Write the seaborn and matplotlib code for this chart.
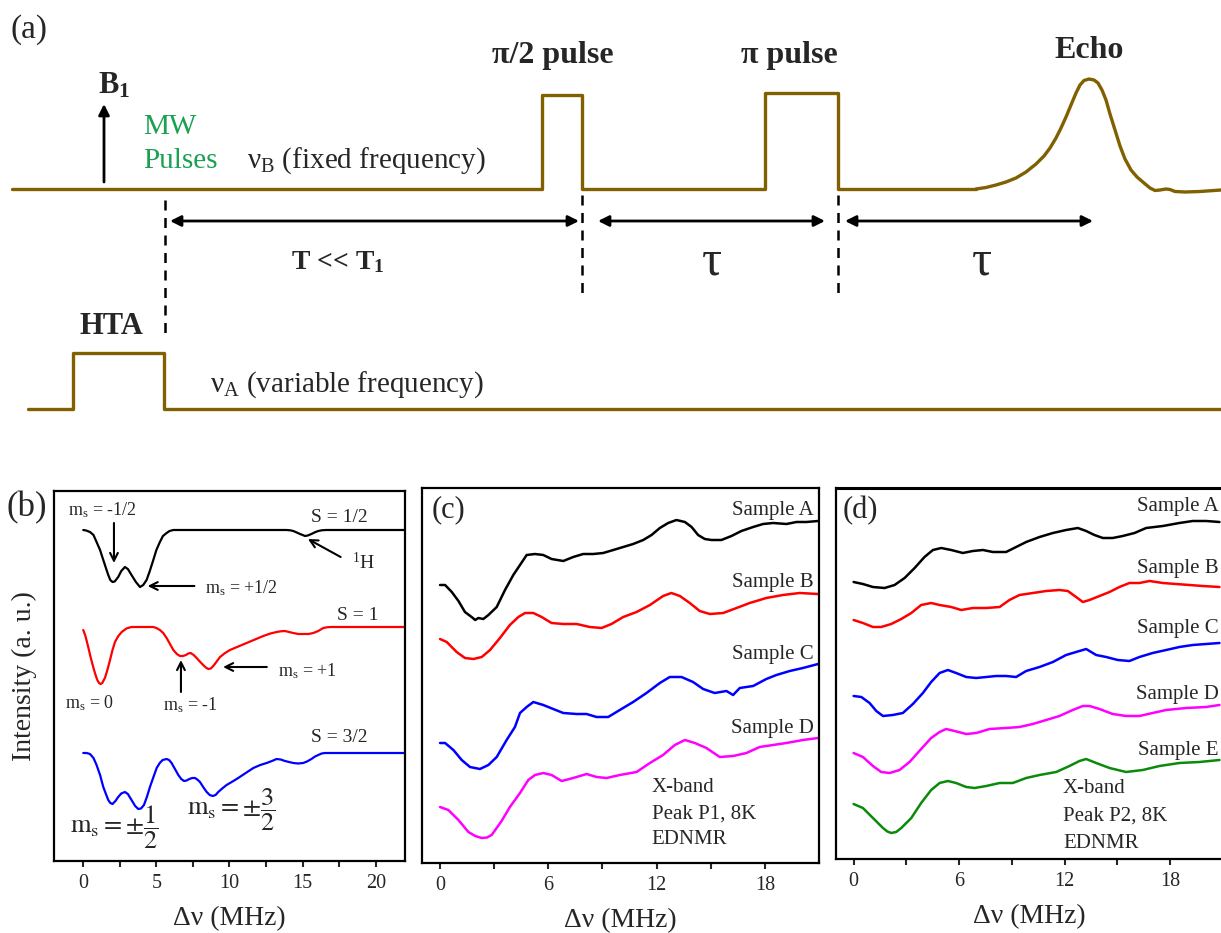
import matplotlib
matplotlib.use("Agg")
import matplotlib.pyplot as plt
import seaborn as sns

sns.set_style("ticks")
plt.rcParams['font.family'] = ['Liberation Serif', 'DejaVu Serif']
plt.rcParams['mathtext.fontset'] = 'custom'
plt.rcParams['mathtext.rm'] = 'Liberation Serif'
plt.rcParams['mathtext.it'] = 'Liberation Serif:italic'
plt.rcParams['mathtext.bf'] = 'Liberation Serif:bold'

# ---------------- data: panel (a) pulse scheme (time / amplitude, drawing units) -------------
nuB_t = [12, 542, 542, 582, 582, 765, 765, 838, 838, 976]
nuB_amp = [189, 189, 95, 95, 189, 189, 93, 93, 189, 189]
echo_t = [976, 986, 996, 1006, 1016, 1026, 1036, 1044, 1050, 1056, 1061, 1066, 1071, 1076,
          1080, 1084, 1089, 1094, 1098, 1102, 1106, 1110, 1115, 1120, 1125, 1131, 1137, 1144,
          1150, 1155, 1160, 1166, 1170, 1175, 1185, 1200, 1221]
echo_amp = [189, 187.5, 185, 182, 178, 172, 164, 156, 148, 138, 128, 117, 105, 93,
            85, 80.5, 79, 80, 83, 90, 100, 114, 130, 146, 159, 170, 177, 183,
            188, 190.5, 190, 189, 189.5, 191.5, 192, 191.5, 190]
nuA_t = [28, 73, 73, 164, 164, 1221]
nuA_amp = [409, 409, 353, 353, 409, 409]
marker_t = [165, 582, 838]

# ---------------- data: panel (b) simulated spectra ----------------
b_s12_x = [0, 0.2, 0.46, 0.7, 0.91, 1.15, 1.37, 1.55, 1.71, 1.85, 2.0, 2.15, 2.39, 2.6, 2.85,
           3.05, 3.3, 3.6, 3.88, 4.1, 4.33, 4.55, 4.79, 5.0, 5.24, 5.45, 5.7, 5.9, 6.16, 13.9,
           14.15, 14.36, 14.6, 14.82, 15.0, 15.16, 15.35, 15.6, 15.85, 16.07, 16.3, 16.6, 22]
b_s12_y = [33.1, 33.05, 32.9, 32.6, 31.9, 31.1, 30.1, 29.3, 28.6, 28.1, 27.9, 27.95, 28.4, 29.0,
           29.4, 29.2, 28.6, 27.9, 27.4, 27.6, 28.1, 29.0, 30.1, 31.1, 31.9, 32.5, 32.8, 33.0,
           33.1, 33.1, 33.07, 33.0, 32.85, 32.7, 32.6, 32.5, 32.55, 32.7, 32.88, 33.0, 33.07,
           33.1, 33.1]
b_s1_x = [0, 0.15, 0.34, 0.5, 0.68, 0.82, 0.96, 1.08, 1.19, 1.3, 1.48, 1.65, 1.83, 2.0, 2.17,
          2.4, 2.63, 2.95, 3.3, 4.79, 5.0, 5.24, 5.47, 5.7, 5.93, 6.16, 6.4, 6.61, 6.82, 7.02,
          7.18, 7.34, 7.55, 7.75, 7.97, 8.2, 8.38, 8.55, 8.72, 8.89, 9.1, 9.35, 9.7, 10.03,
          10.6, 11.17, 11.74, 12.31, 12.8, 13.22, 13.5, 13.79, 14.07, 14.36, 14.7, 15.04, 15.4,
          15.73, 16.07, 16.41, 16.7, 16.98, 22]
b_s1_y = [23.1, 22.5, 21.4, 20.4, 19.4, 18.7, 18.1, 17.8, 17.7, 17.8, 18.3, 19.1, 20.1, 21.1,
          21.9, 22.5, 22.9, 23.25, 23.4, 23.4, 23.3, 23.1, 22.8, 22.3, 21.7, 21.1, 20.7, 20.5,
          20.5, 20.6, 20.75, 20.8, 20.6, 20.3, 19.95, 19.6, 19.35, 19.2, 19.25, 19.5, 19.9,
          20.4, 20.8, 21.1, 21.45, 21.8, 22.15, 22.5, 22.75, 22.9, 22.97, 23.0, 22.9, 22.8,
          22.7, 22.7, 22.7, 22.8, 23.0, 23.3, 23.38, 23.4, 23.4]
b_s32_x = [0, 0.23, 0.46, 0.7, 0.91, 1.15, 1.37, 1.55, 1.71, 1.85, 2.0, 2.2, 2.39, 2.6, 2.85,
           3.05, 3.3, 3.55, 3.76, 3.95, 4.15, 4.35, 4.56, 4.8, 5.02, 5.23, 5.43, 5.7, 5.87, 6.04,
           6.27, 6.5, 6.7, 6.89, 7.07, 7.25, 7.45, 7.64, 7.8, 7.98, 8.2, 8.44, 8.65, 8.85, 9.05,
           9.23, 9.5, 9.8, 10.15, 10.49, 11.06, 11.63, 12.1, 12.54, 12.9, 13.22, 13.5, 13.79,
           14.07, 14.36, 14.7, 15.04, 15.3, 15.6, 15.85, 16.07, 16.3, 16.52, 22]
b_s32_y = [10.8, 10.8, 10.7, 10.3, 9.6, 8.6, 7.4, 6.7, 6.1, 5.8, 5.7, 6.0, 6.4, 6.75, 6.9,
           6.7, 6.1, 5.5, 5.2, 5.25, 5.6, 6.4, 7.4, 8.4, 9.3, 9.8, 10.1, 10.2, 10.1, 9.8,
           9.2, 8.6, 8.2, 8.0, 8.05, 8.2, 8.3, 8.3, 8.15, 7.9, 7.4, 6.9, 6.6, 6.5, 6.6,
           6.9, 7.25, 7.6, 7.9, 8.2, 8.75, 9.3, 9.6, 9.8, 10.0, 10.2, 10.15, 10.0,
           9.9, 9.8, 9.75, 9.8, 9.95, 10.2, 10.45, 10.6, 10.75, 10.8, 10.8]

# ---------------- data: panel (c) EDNMR, peak P1 ----------------
cA_x = [0, 0.28, 0.65, 1.02, 1.38, 1.75, 1.95, 2.12, 2.4, 2.68, 3.14, 3.6, 4.06, 4.43, 4.8,
        5.26, 5.72, 6.18, 6.83, 7.38, 7.93, 8.49, 9.04, 9.6, 10.15, 10.7, 11.26, 11.72, 12.18,
        12.64, 13.1, 13.57, 13.94, 14.3, 14.67, 15.04, 15.59, 16.15, 16.7, 17.35, 17.9, 18.46,
        19.2, 19.75, 20.3, 20.95]
cA_y = [27.8, 27.8, 27.1, 26.2, 25.1, 24.6, 24.3, 24.5, 24.4, 24.8, 25.6, 27.3, 28.8, 29.8, 30.8,
        30.9, 30.8, 30.4, 30.2, 30.6, 30.9, 30.9, 31.0, 31.3, 31.6, 31.9, 32.3, 32.8, 33.5,
        34.0, 34.3, 34.1, 33.6, 32.8, 32.4, 32.3, 32.3, 32.7, 33.2, 33.6, 33.9, 34.0,
        33.9, 34.1, 34.1, 34.2]
cB_x = [0, 0.37, 0.92, 1.38, 1.85, 2.31, 2.77, 3.32, 3.87, 4.34, 4.71, 5.17, 5.63, 6.18, 6.83,
        7.57, 8.3, 8.95, 9.5, 10.15, 10.89, 11.63, 12.36, 12.82, 13.29, 13.84, 14.39, 14.95,
        15.69, 16.43, 17.16, 18.08, 19.0, 19.93, 20.95]
cB_y = [22.4, 22.1, 21.1, 20.5, 20.4, 20.6, 21.3, 22.5, 23.8, 24.6, 25.0, 25.0, 24.6, 24.0, 23.9,
        23.9, 23.6, 23.5, 23.9, 24.6, 25.1, 25.8, 26.7, 27.0, 26.7, 26.0, 25.2, 24.9,
        25.0, 25.5, 26.0, 26.5, 26.8, 27.0, 26.9]
cC_x = [0, 0.28, 0.74, 1.2, 1.66, 2.21, 2.68, 3.14, 3.69, 4.15, 4.43, 4.8, 5.17, 5.72, 6.27,
        6.83, 7.57, 8.12, 8.67, 9.32, 9.96, 10.7, 11.44, 12.18, 12.73, 13.38, 14.02, 14.58,
        15.22, 15.87, 16.24, 16.61, 17.35, 18.08, 18.64, 19.38, 20.11, 20.95]
cC_y = [12.0, 12.0, 11.3, 10.3, 9.6, 9.4, 9.8, 10.6, 12.3, 13.6, 15.0, 15.6, 16.1, 15.8, 15.4,
        15.0, 14.9, 14.9, 14.6, 14.6, 15.3, 16.1, 17.0, 18.0, 18.6, 18.6, 18.1, 17.4,
        17.0, 17.2, 16.8, 17.5, 17.7, 18.4, 18.8, 19.2, 19.5, 19.9]
cD_x = [0, 0.46, 1.02, 1.57, 1.95, 2.31, 2.6, 2.86, 3.41, 3.87, 4.43, 4.89, 5.26, 5.72, 6.18,
        6.74, 7.38, 8.12, 8.67, 9.23, 9.96, 10.89, 11.63, 12.36, 13.01, 13.57, 14.12, 14.76,
        15.5, 16.24, 16.98, 17.71, 18.45, 19.19, 20.11, 20.95]
cD_y = [5.6, 5.3, 4.3, 3.1, 2.7, 2.5, 2.55, 2.8, 4.2, 5.6, 7.0, 8.3, 8.8, 9.0, 8.8,
        8.2, 8.5, 8.9, 8.6, 8.5, 8.8, 9.1, 10.0, 10.8, 11.8, 12.3, 12.0, 11.5,
        10.6, 10.7, 11.0, 11.6, 11.8, 12.0, 12.3, 12.5]

# ---------------- data: panel (d) EDNMR, peak P2 ----------------
dA_x = [0, 0.53, 1.1, 1.76, 2.33, 2.9, 3.47, 4.03, 4.51, 4.98, 5.55, 6.21, 6.78, 7.35, 7.92,
        8.67, 9.24, 9.81, 10.57, 11.33, 12.08, 12.75, 13.22, 13.69, 14.17, 14.73, 15.3, 15.97,
        16.63, 17.58, 18.52, 19.28, 20.04, 20.8]
dA_y = [27.7, 27.5, 27.2, 27.1, 27.4, 28.1, 29.1, 30.2, 30.9, 31.1, 30.9, 30.6, 30.8, 30.9, 30.7,
        30.7, 31.2, 31.7, 32.2, 32.6, 32.9, 33.1, 32.8, 32.4, 32.1, 32.1, 32.3, 32.6,
        33.1, 33.3, 33.6, 33.8, 33.8, 33.7]
dB_x = [0, 0.53, 1.1, 1.57, 2.14, 2.71, 3.28, 3.84, 4.41, 4.89, 5.55, 6.12, 6.78, 7.54, 8.3,
        8.86, 9.43, 10.19, 10.95, 11.7, 12.18, 12.65, 13.03, 13.41, 13.98, 14.55, 15.11, 15.68,
        16.25, 16.82, 17.58, 18.33, 19.09, 19.85, 20.8]
dB_y = [23.9, 23.6, 23.2, 23.2, 23.5, 24.0, 24.6, 25.4, 25.6, 25.4, 25.2, 24.9, 25.1, 25.1, 25.2,
        25.9, 26.4, 26.6, 26.8, 26.9, 26.8, 26.2, 25.7, 25.9, 26.3, 26.7, 27.2, 27.6,
        27.6, 27.8, 27.6, 27.5, 27.4, 27.3, 27.2]
dC_x = [0, 0.44, 0.91, 1.29, 1.67, 2.23, 2.8, 3.37, 3.94, 4.41, 4.89, 5.36, 5.83, 6.4, 6.97,
        7.54, 8.1, 8.67, 9.24, 9.81, 10.57, 11.33, 12.08, 12.65, 13.22, 13.79, 14.36, 15.02,
        15.68, 16.25, 17.0, 17.77, 18.52, 19.28, 20.04, 20.8]
dC_y = [16.3, 16.2, 15.6, 14.8, 14.3, 14.4, 14.6, 15.5, 16.6, 17.7, 18.6, 18.9, 18.6, 18.2, 18.1,
        18.2, 18.3, 18.3, 18.2, 18.8, 19.2, 19.7, 20.4, 20.7, 21.0, 20.4, 20.2, 19.9,
        19.8, 20.2, 20.6, 20.9, 21.2, 21.4, 21.5, 21.6]
dD_x = [0, 0.53, 1.1, 1.57, 2.05, 2.61, 3.18, 3.84, 4.41, 4.89, 5.26, 5.74, 6.4, 6.97, 7.73,
        8.67, 9.43, 10.19, 10.95, 11.7, 12.46, 13.03, 13.41, 13.98, 14.73, 15.49, 16.25, 17.0,
        17.77, 18.9, 20.04, 20.8]
dD_y = [10.6, 10.2, 9.3, 8.7, 8.6, 8.9, 9.7, 11.0, 12.1, 12.7, 13.0, 12.8, 12.5, 12.6, 13.0,
        13.1, 13.2, 13.5, 13.9, 14.3, 14.9, 15.3, 15.3, 15.0, 14.5, 14.3, 14.3, 14.6,
        14.9, 15.1, 15.2, 15.4]
dE_x = [0, 0.53, 1.1, 1.67, 1.92, 2.14, 2.42, 2.71, 3.28, 3.84, 4.41, 4.89, 5.36, 5.83, 6.4,
        6.88, 7.54, 8.3, 9.05, 9.81, 10.57, 11.52, 12.27, 12.84, 13.22, 13.79, 14.55, 15.49,
        16.44, 17.39, 18.52, 19.66, 20.8]
dE_y = [5.5, 5.1, 4.1, 3.1, 2.75, 2.6, 2.7, 3.1, 4.1, 5.6, 6.9, 7.6, 7.8, 7.6, 7.2,
        7.1, 7.3, 7.6, 7.6, 8.1, 8.4, 8.7, 9.3, 9.8, 10.0, 9.6, 9.1, 8.7,
        8.9, 9.3, 9.6, 9.7, 9.9]

c_labels = ["Sample A", "Sample B", "Sample C", "Sample D"]
c_label_y = [35.2, 28.1, 20.8, 13.5]
d_labels = ["Sample A", "Sample B", "Sample C", "Sample D", "Sample E"]
d_label_y = [35.2, 29.1, 23.0, 16.4, 10.9]
colors = ["black", "#ff0000", "#0000ff", "#ff00ff", "#0a8a0a"]

W, H = 1221, 933
fig = plt.figure(figsize=(W / 100, H / 100), dpi=100)

# =================== panel (a) ===================
olive = "#806000"
ax_a = fig.add_axes([0, 1 - 440 / H, 1, 440 / H])
ax_a.set_xlim(0, W)
ax_a.set_ylim(440, 0)
ax_a.axis("off")
kw = dict(estimator=None, sort=False, color=olive, lw=2.4, ax=ax_a, legend=False)
sns.lineplot(x=nuB_t, y=nuB_amp, **kw)
sns.lineplot(x=echo_t, y=echo_amp, **kw)
sns.lineplot(x=nuA_t, y=nuA_amp, **kw)

ax_a.plot([marker_t[0]] * 2, [200, 340], color="k", lw=1.8, ls=(0, (4, 3)))
ax_a.plot([marker_t[1]] * 2, [195, 295], color="k", lw=1.8, ls=(0, (4, 3)))
ax_a.plot([marker_t[2]] * 2, [195, 295], color="k", lw=1.8, ls=(0, (4, 3)))

aprops = dict(arrowstyle="<|-|>", color="k", lw=2.0, mutation_scale=16, shrinkA=0, shrinkB=0)
ax_a.annotate("", xy=(579, 221), xytext=(170, 221), arrowprops=aprops)
ax_a.annotate("", xy=(825, 221), xytext=(598, 221), arrowprops=aprops)
ax_a.annotate("", xy=(1093, 221), xytext=(845, 221), arrowprops=aprops)
ax_a.annotate("", xy=(104, 104), xytext=(104, 182),
              arrowprops=dict(arrowstyle="-|>", color="k", lw=2.0, mutation_scale=16,
                              shrinkA=0, shrinkB=0))

ax_a.text(10, 30, "(a)", fontsize=24, va="center", ha="left")
ax_a.text(98, 86, r"B$_\mathbf{1}$", fontsize=22, fontweight="bold", va="center", ha="left")
ax_a.text(143, 127, "MW", fontsize=21, color="#1aa050", va="center", ha="left")
ax_a.text(143, 161, "Pulses", fontsize=21, color="#1aa050", va="center", ha="left")
ax_a.text(247, 161, r"ν$_\mathrm{B}$ (fixed frequency)", fontsize=21, va="center", ha="left")
ax_a.text(553, 56, "π/2 pulse", fontsize=23, fontweight="bold", va="center", ha="center")
ax_a.text(789, 56, "π pulse", fontsize=23, fontweight="bold", va="center", ha="center")
ax_a.text(1089, 50, "Echo", fontsize=23, fontweight="bold", va="center", ha="center")
ax_a.text(338, 262, r"T << T$_\mathbf{1}$", fontsize=20, fontweight="bold", va="center", ha="center")
ax_a.text(712, 262, "τ", fontsize=36, va="center", ha="center")
ax_a.text(982, 262, "τ", fontsize=36, va="center", ha="center")
ax_a.text(111, 327, "HTA", fontsize=22, fontweight="bold", va="center", ha="center")
ax_a.text(210, 385, r"ν$_\mathrm{A}$ (variable frequency)", fontsize=21, va="center", ha="left")


def style_axes(ax, xlim, ylim, major, minor):
    ax.set_xlim(*xlim)
    ax.set_ylim(*ylim)
    ax.set_xticks(major)
    ax.set_xticks(minor, minor=True)
    ax.set_yticks([])
    ax.tick_params(axis="x", which="both", direction="out", length=4, width=1.5,
                   labelsize=14.5, pad=5, top=False)
    for s in ax.spines.values():
        s.set_visible(True)
        s.set_linewidth(1.6)
        s.set_color("k")
    ax.set_xlabel("Δν (MHz)", fontsize=20, labelpad=10)


# =================== panel (b) ===================
ax_b = fig.add_axes([54 / W, (H - 861) / H, 351 / W, 370 / H])
style_axes(ax_b, (-2, 22), (0, 37), [0, 5, 10, 15, 20], [2.5, 7.5, 12.5, 17.5])
ax_b.set_ylabel("Intensity (a. u.)", fontsize=20, labelpad=12)
for xs, ys, c in [(b_s12_x, b_s12_y, "black"), (b_s1_x, b_s1_y, "#ff0000"),
                  (b_s32_x, b_s32_y, "#0000ff")]:
    sns.lineplot(x=xs, y=ys, color=c, lw=1.6, ax=ax_b, estimator=None, sort=False, legend=False)

sp = dict(arrowstyle="->", color="k", lw=1.5, mutation_scale=14, shrinkA=0, shrinkB=0)
ax_b.text(-1.05, 35.1, r"m$_\mathrm{s}$ = -1/2", fontsize=13, va="center", ha="left")
ax_b.annotate("", xy=(2.1, 29.8), xytext=(2.1, 33.8), arrowprops=sp)
ax_b.text(15.6, 34.4, "S = 1/2", fontsize=14, va="center", ha="left")
ax_b.text(18.4, 29.8, r"$^\mathrm{1}$H", fontsize=14, va="center", ha="left")
ax_b.annotate("", xy=(15.36, 32.2), xytext=(17.6, 30.4), arrowprops=sp)
ax_b.text(8.3, 27.3, r"m$_\mathrm{s}$ = +1/2", fontsize=13, va="center", ha="left")
ax_b.annotate("", xy=(4.4, 27.5), xytext=(7.6, 27.5), arrowprops=sp)
ax_b.text(17.35, 24.5, "S = 1", fontsize=14, va="center", ha="left")
ax_b.text(13.3, 19.0, r"m$_\mathrm{s}$ = +1", fontsize=13, va="center", ha="left")
ax_b.annotate("", xy=(9.56, 19.4), xytext=(12.55, 19.4), arrowprops=sp)
ax_b.text(-1.25, 15.8, r"m$_\mathrm{s}$ = 0", fontsize=13, va="center", ha="left")
ax_b.text(5.45, 15.6, r"m$_\mathrm{s}$ = -1", fontsize=13, va="center", ha="left")
ax_b.annotate("", xy=(6.68, 20.1), xytext=(6.68, 16.9), arrowprops=sp)
ax_b.text(15.6, 12.3, "S = 3/2", fontsize=14, va="center", ha="left")
ax_b.text(-0.9, 3.4, r"$\mathrm{m_s} = \pm\dfrac{1}{2}$", fontsize=19, va="center", ha="left",
          math_fontfamily="stix")
ax_b.text(7.1, 5.1, r"$\mathrm{m_s} = \pm\dfrac{3}{2}$", fontsize=19, va="center", ha="left",
          math_fontfamily="stix")
fig.text(7 / W, 1 - 508 / H, "(b)", fontsize=25, va="center", ha="left")

# =================== panel (c) ===================
ax_c = fig.add_axes([422 / W, (H - 863) / H, 397 / W, 375 / H])
style_axes(ax_c, (-1, 21), (0, 37.5), [0, 6, 12, 18], [3, 9, 15])
for (xs, ys), c in zip([(cA_x, cA_y), (cB_x, cB_y), (cC_x, cC_y), (cD_x, cD_y)], colors):
    sns.lineplot(x=xs, y=ys, color=c, lw=1.8, ax=ax_c, estimator=None, sort=False, legend=False)
for lab, yy in zip(c_labels, c_label_y):
    ax_c.text(20.72, yy, lab, fontsize=15, va="center", ha="right")
ax_c.text(11.72, 7.5, "X-band", fontsize=15, va="center", ha="left")
ax_c.text(11.72, 4.9, "Peak P1, 8K", fontsize=15, va="center", ha="left")
ax_c.text(11.72, 2.3, "EDNMR", fontsize=15, va="center", ha="left")
ax_c.text(10 / 397, 1 - 22 / 375, "(c)", transform=ax_c.transAxes, fontsize=22,
          va="center", ha="left")

# =================== panel (d) ===================
ax_d = fig.add_axes([836 / W, (H - 859) / H, 387 / W, 371 / H])
style_axes(ax_d, (-1, 21), (0, 37.1), [0, 6, 12, 18], [3, 9, 15])
ax_d.spines["top"].set_linewidth(2.2)
for (xs, ys), c in zip([(dA_x, dA_y), (dB_x, dB_y), (dC_x, dC_y), (dD_x, dD_y), (dE_x, dE_y)], colors):
    sns.lineplot(x=xs, y=ys, color=c, lw=1.8, ax=ax_d, estimator=None, sort=False, legend=False)
for lab, yy in zip(d_labels, d_label_y):
    ax_d.text(20.74, yy, lab, fontsize=15, va="center", ha="right")
ax_d.text(11.9, 7.07, "X-band", fontsize=15, va="center", ha="left")
ax_d.text(11.9, 4.3, "Peak P2, 8K", fontsize=15, va="center", ha="left")
ax_d.text(11.9, 1.6, "EDNMR", fontsize=15, va="center", ha="left")
ax_d.text(7 / 387, 1 - 23 / 371, "(d)", transform=ax_d.transAxes, fontsize=22,
          va="center", ha="left")

fig.savefig("out.png", dpi=100)
